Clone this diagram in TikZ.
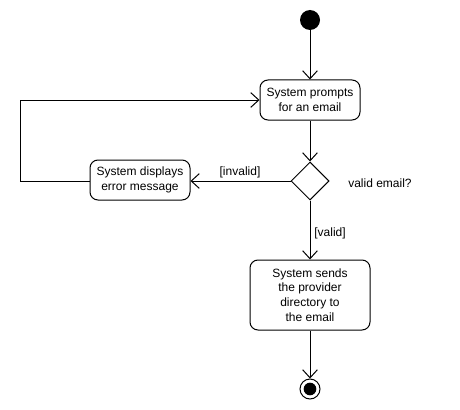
\documentclass[tikz,border=0pt]{standalone}
\usepackage{fontspec}
\setmainfont{Liberation Sans}
\usetikzlibrary{arrows.meta,shapes.geometric}
\begin{document}
\begin{tikzpicture}[x=0.75pt,y=-0.75pt,
  every path/.style={line width=0.75pt},
  act/.style={draw,rounded corners=6pt,align=center,inner sep=0pt,font=\fontsize{9}{11}\selectfont},
  flow/.style={-{Straight Barb[length=6pt,width=11pt,line width=0.75pt]}},
  lbl/.style={font=\fontsize{9}{11}\selectfont,inner sep=0pt}]
\useasboundingbox (0,0) rectangle (460,410);
\node[circle,fill=black,minimum size=15pt,inner sep=0pt] (start) at (310,20) {};
\node[act,minimum width=75pt,minimum height=30pt] (prompt) at (310,100) {System prompts\\for an email};
\node[draw,diamond,minimum width=28.5pt,minimum height=28.5pt,inner sep=0pt] (dec) at (310,181) {};
\node[act,minimum width=75pt,minimum height=30pt] (err) at (140,180) {System displays\\error message};
\node[act,minimum width=90pt,minimum height=52.5pt] (send) at (310,295) {System sends\\the provider\\ directory to\\the email};
\node[circle,draw,minimum size=15pt,inner sep=0pt] (end) at (310,389) {};
\node[circle,fill=black,minimum size=9.5pt,inner sep=0pt] at (end) {};
\node[lbl] (q) at (380,183) {valid email?};
\node[lbl] (inv) at (240,172) {[invalid]};
\node[lbl] (val) at (330,233) {[valid]};
\coordinate (c1) at (20,181);
\coordinate (c2) at (20,100);
\draw[flow] (start) -- (prompt);
\draw[flow] (prompt) -- (dec.north);
\draw[flow] (dec.west) -- (err.east |- dec.west);
\draw[flow] (err.west |- dec.west) -- (c1) -- (c2) -- (prompt.west);
\draw[flow] (dec.south) -- (send);
\draw[flow] (send) -- (end);
\end{tikzpicture}
\end{document}
